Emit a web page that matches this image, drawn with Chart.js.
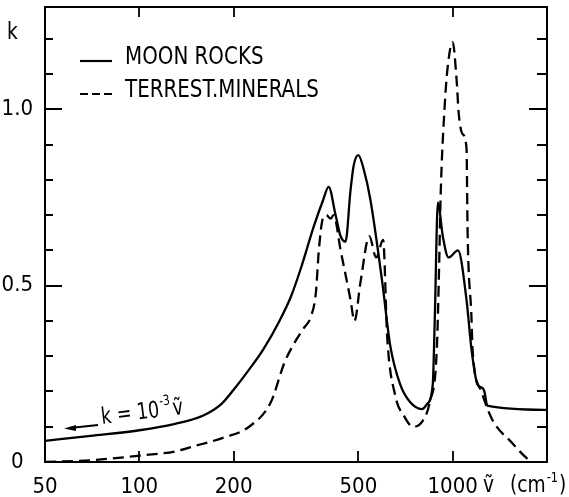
<!DOCTYPE html>
<html>
<head>
<meta charset="utf-8">
<script src="https://cdn.jsdelivr.net/npm/chart.js@4"></script>
<style>
html,body{margin:0;padding:0;background:#fff;}
#c{display:block;}
</style>
</head>
<body>
<canvas id="c" width="569" height="497"></canvas>
<script>
// ---- data ----
const moonX = [50, 70, 100, 130, 160, 183, 200, 224, 249, 280, 305, 328, 361, 385, 402, 423, 439, 455, 472, 483, 500, 520, 546, 596, 632, 680, 731, 798, 830, 864, 877, 897, 930, 970, 1040, 1107, 1148, 1200, 1244, 1262, 1290, 2000];
const moonK = [0.06, 0.074, 0.09, 0.108, 0.132, 0.165, 0.205, 0.262, 0.32, 0.40, 0.47, 0.55, 0.67, 0.74, 0.78, 0.70, 0.64, 0.625, 0.77, 0.84, 0.87, 0.83, 0.745, 0.51, 0.33, 0.22, 0.17, 0.15, 0.165, 0.22, 0.41, 0.735, 0.64, 0.58, 0.60, 0.46, 0.32, 0.22, 0.21, 0.20, 0.16, 0.148];

const terrX = [50, 70, 100, 130, 147, 187, 224, 263, 290, 309, 335, 352, 366, 374, 385, 395, 408, 417, 439, 472, 486, 508, 542, 570, 600, 618, 655, 700, 747, 800, 845, 890, 905, 915, 943, 964, 1000, 1030, 1045, 1075, 1107, 1116, 1148, 1157, 1235, 1338, 1548, 1727, 1800];
const terrK = [0.0, 0.005, 0.018, 0.03, 0.043, 0.07, 0.10, 0.17, 0.28, 0.33, 0.38, 0.41, 0.48, 0.60, 0.69, 0.70, 0.69, 0.70, 0.60, 0.46, 0.40, 0.51, 0.64, 0.58, 0.63, 0.355, 0.19, 0.13, 0.10, 0.115, 0.17, 0.32, 0.55, 0.75, 1.01, 1.12, 1.19, 1.08, 0.99, 0.93, 0.89, 0.65, 0.41, 0.32, 0.20, 0.12, 0.054, 0.01, 0.0];

const xTickValues = [50, 100, 200, 500, 1000];
const yTickValues = [0, 0.5, 1.0];
const yMinorTicks = [0.1, 0.2, 0.3, 0.4, 0.6, 0.7, 0.8, 0.9, 1.1, 1.2];
const xTopTicks = [100, 200, 1000];
const xBottomTicks = [100, 200, 500, 1000];
const seriesLabels = ['MOON ROCKS', 'TERREST.MINERALS'];

const FONT = "'DejaVu Sans Condensed', 'Liberation Sans Narrow', sans-serif";

function narrowText(ctx, text, x, y, sx) {
  ctx.save();
  ctx.translate(x, y);
  ctx.scale(sx, 1);
  ctx.fillText(text, 0, 0);
  const w = ctx.measureText(text).width * sx;
  ctx.restore();
  return w;
}

const framePlugin = {
  id: 'frame',
  afterDraw(chart) {
    const ctx = chart.ctx;
    const a = chart.chartArea;
    const xs = chart.scales.x, ys = chart.scales.y;
    ctx.save();
    ctx.strokeStyle = '#000';
    ctx.lineWidth = 2;
    ctx.setLineDash([]);
    ctx.strokeRect(a.left, a.top, a.right - a.left, a.bottom - a.top);
    ctx.lineWidth = 1.8;
    ctx.beginPath();
    yMinorTicks.forEach(v => {
      const y = Math.round(ys.getPixelForValue(v));
      ctx.moveTo(a.left, y); ctx.lineTo(a.left + 8, y);
      ctx.moveTo(a.right, y); ctx.lineTo(a.right - 10, y);
    });
    yTickValues.filter(v => v > 0).forEach(v => {
      const y = Math.round(ys.getPixelForValue(v));
      ctx.moveTo(a.left, y); ctx.lineTo(a.left + 17, y);
      ctx.moveTo(a.right, y); ctx.lineTo(a.right - 18, y);
    });
    xTopTicks.forEach(v => {
      const x = Math.round(xs.getPixelForValue(v));
      ctx.moveTo(x, a.top); ctx.lineTo(x, a.top + 10);
    });
    xBottomTicks.forEach(v => {
      const x = Math.round(xs.getPixelForValue(v));
      ctx.moveTo(x, a.bottom); ctx.lineTo(x, a.bottom - 11);
    });
    ctx.stroke();

    // legend
    ctx.fillStyle = '#000';
    ctx.textBaseline = 'middle';
    ctx.textAlign = 'left';
    const ds = chart.data.datasets;
    const rows = [61, 94];
    ds.forEach((d, i) => {
      ctx.beginPath();
      ctx.lineWidth = 2.2;
      ctx.setLineDash(d.borderDash ? [8, 4] : []);
      ctx.moveTo(80, rows[i]); ctx.lineTo(112, rows[i]);
      ctx.stroke();
      ctx.setLineDash([]);
      ctx.font = '24px ' + FONT;
      narrowText(ctx, d.label, 125, rows[i] - 3, 0.92);
    });

    // y-axis title
    ctx.font = '23px ' + FONT;
    narrowText(ctx, 'k', 7, 33, 0.9);

    // x-axis title
    ctx.textBaseline = 'alphabetic';
    ctx.font = '23px ' + FONT;
    narrowText(ctx, '\u1E7D', 483, 492, 0.9);
    let w = narrowText(ctx, '(cm', 510, 492, 0.9);
    ctx.font = '14px ' + FONT;
    let w2 = narrowText(ctx, '-1', 510 + w + 1, 482, 0.9);
    ctx.font = '23px ' + FONT;
    narrowText(ctx, ')', 510 + w + w2 + 2, 492, 0.9);

    // annotation k = 10^-3 v
    ctx.save();
    ctx.translate(102, 424);
    ctx.rotate(-7 * Math.PI / 180);
    ctx.font = '23px ' + FONT;
    let w3 = narrowText(ctx, 'k = 10', 0, 0, 0.85);
    ctx.font = '14px ' + FONT;
    let w4 = narrowText(ctx, '-3', w3 + 1, -11, 0.85);
    ctx.font = '23px ' + FONT;
    narrowText(ctx, '\u1E7D', w3 + w4 + 3, 0, 0.85);
    ctx.restore();

    // arrow
    ctx.beginPath();
    ctx.lineWidth = 1.8;
    ctx.moveTo(98, 425); ctx.lineTo(70, 428);
    ctx.stroke();
    ctx.beginPath();
    ctx.moveTo(64, 428.5); ctx.lineTo(76, 425); ctx.lineTo(76, 431); ctx.closePath();
    ctx.fill();

    ctx.restore();
  }
};

new Chart(document.getElementById('c'), {
  type: 'line',
  data: {
    datasets: [
      {
        label: seriesLabels[0],
        data: moonX.map((x, i) => ({ x: x, y: moonK[i] })),
        borderColor: '#000',
        borderWidth: 2.3,
        pointRadius: 0,
        cubicInterpolationMode: 'monotone',
        fill: false
      },
      {
        label: seriesLabels[1],
        data: terrX.map((x, i) => ({ x: x, y: terrK[i] })),
        borderColor: '#000',
        borderWidth: 2.3,
        borderDash: [11, 6],
        pointRadius: 0,
        cubicInterpolationMode: 'monotone',
        fill: false
      }
    ]
  },
  options: {
    responsive: false,
    animation: false,
    layout: { padding: { top: 7, right: 22, left: 0, bottom: 0 } },
    plugins: { legend: { display: false }, tooltip: { enabled: false } },
    scales: {
      x: {
        type: 'logarithmic',
        min: 50,
        max: 2000,
        grid: { display: false, drawTicks: false },
        border: { display: false },
        afterBuildTicks: s => { s.ticks = xTickValues.map(v => ({ value: v })); },
        afterFit: s => { s.height = 35; s.paddingLeft = 0; s.paddingRight = 0; },
        ticks: {
          autoSkip: false,
          maxRotation: 0,
          padding: 12,
          color: '#000',
          font: { family: FONT, size: 22 },
          callback: v => String(v)
        }
      },
      y: {
        type: 'linear',
        min: 0,
        max: 1.29,
        grid: { display: false, drawTicks: false },
        border: { display: false },
        afterBuildTicks: s => { s.ticks = yTickValues.map(v => ({ value: v })); },
        afterFit: s => { s.width = 45; s.paddingTop = 0; s.paddingBottom = 0; },
        ticks: {
          crossAlign: 'center',
          padding: 12,
          color: '#000',
          font: { family: FONT, size: 22 },
          callback: v => (v === 0 ? '0' : Number(v).toFixed(1))
        }
      }
    }
  },
  plugins: [framePlugin]
});
</script>
</body>
</html>
